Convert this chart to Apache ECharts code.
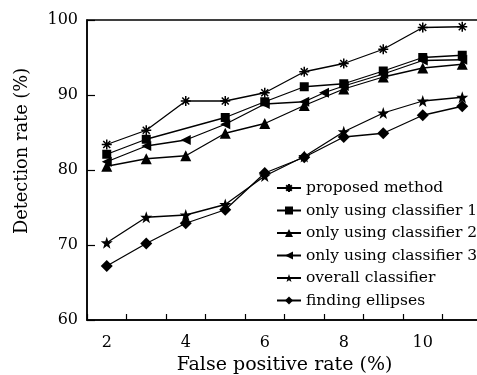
<!DOCTYPE html>
<html>
<head>
<meta charset="utf-8">
<script src="https://cdn.jsdelivr.net/npm/echarts@6/dist/echarts.min.js"></script>
<style>
  html, body { margin: 0; padding: 0; background: #fff; }
  #chart { width: 477px; height: 375px; }
</style>
</head>
<body>
<div id="chart"></div>
<script>
// false positive rate (%)
const xs = [2, 3, 4, 5, 6, 7, 8, 9, 10, 11]
const xsClf3 = [2, 3, 4, 5, 6, 7, 7.5, 8, 9, 10, 11]
const xCategories = ['2', '3', '4', '5', '6', '7', '8', '9', '10', '11']

// detection rate (%)
const proposed = [83.4, 85.3, 89.2, 89.2, 90.3, 93.1, 94.2, 96.1, 99.0, 99.1]
const clf1 = [82.1, 84.1, null, 87.0, 89.1, 91.1, 91.5, 93.2, 95.0, 95.3]
const clf2 = [80.5, 81.5, 81.9, 84.9, 86.2, 88.6, 90.8, 92.4, 93.6, 94.1]
const clf3 = [81.1, 83.2, 84.0, 86.1, 88.8, 89.1, 90.3, 91.2, 92.8, 94.6, 94.7]
const overall = [70.3, 73.7, 74.0, 75.4, 79.2, 81.8, 85.1, 87.6, 89.2, 89.7]
const ellipses = [67.2, 70.2, 72.9, 74.7, 79.6, 81.7, 84.4, 84.9, 87.3, 88.5]

const seriesNames = [
  'proposed method',
  'only using classifier 1',
  'only using classifier 2',
  'only using classifier 3',
  'overall classifier',
  'finding ellipses'
]

const FONT = 'DejaVu Serif'
const asterisk = 'path://M0,-10L0,10M-10,0L10,0M-7,-7L7,7M-7,7L7,-7'
const star = 'path://M0,-10L2.35,-3.24L9.51,-3.09L3.8,1.24L5.88,8.09L0,4L-5.88,8.09L-3.8,1.24L-9.51,-3.09L-2.35,-3.24Z'

function pairs(x, y) {
  return x.map((v, i) => [v, y[i]])
}

function makeSeries(name, data, symbol, size, extra = {}) {
  return Object.assign({
    name: name,
    type: 'line',
    xAxisIndex: 0,
    data: data,
    symbol: symbol,
    symbolSize: size,
    connectNulls: true,
    showAllSymbol: true,
    lineStyle: { color: '#000', width: 1.3 },
    itemStyle: { color: '#000', borderColor: '#000', borderWidth: 0 },
    emphasis: { disabled: true },
    animation: false
  }, extra)
}

const chart = echarts.init(document.getElementById('chart'))

chart.setOption({
  animation: false,
  grid: {
    left: 87,
    top: 20,
    right: -5,
    bottom: 55,
    outerBoundsMode: 'none',
    containLabel: false,
    show: true,
    borderColor: '#000',
    borderWidth: 1.5
  },
  legend: {
    orient: 'vertical',
    left: 271,
    top: 173,
    itemWidth: 24,
    itemHeight: 10,
    itemGap: 2.5,
    textStyle: { fontFamily: FONT, fontSize: 15.5, color: '#000', lineHeight: 20 },
    data: seriesNames
  },
  xAxis: [
    {
      type: 'value',
      min: 1.5,
      max: 11.5,
      interval: 0.5,
      axisLine: { show: true, lineStyle: { color: '#000', width: 1.5 } },
      axisTick: { show: false },
      splitLine: { show: false },
      axisLabel: {
        fontFamily: FONT,
        fontSize: 16,
        color: '#000',
        margin: 15,
        formatter: (v) => (Number.isInteger(v) && v % 2 === 0 ? String(v) : '')
      },
      name: 'False positive rate (%)',
      nameLocation: 'middle',
      nameGap: 36,
      nameTextStyle: { fontFamily: FONT, fontSize: 19, color: '#000' }
    },
    {
      type: 'category',
      position: 'bottom',
      data: xCategories,
      boundaryGap: true,
      axisLine: { show: false },
      axisTick: { show: true, inside: true, length: 6, lineStyle: { color: '#000', width: 1.2 } },
      axisLabel: { show: false },
      splitLine: { show: false }
    }
  ],
  yAxis: {
    type: 'value',
    min: 60,
    max: 100,
    interval: 10,
    axisLine: { show: true, lineStyle: { color: '#000', width: 1.5 } },
    axisTick: { show: true, inside: true, length: 8, lineStyle: { color: '#000', width: 1.2 } },
    splitLine: { show: false },
    axisLabel: { fontFamily: FONT, fontSize: 16, color: '#000', margin: 9 },
    name: 'Detection rate (%)',
    nameLocation: 'middle',
    nameGap: 56,
    nameTextStyle: { fontFamily: FONT, fontSize: 17.8, color: '#000', padding: [0, 0, 0, 38] }
  },
  series: [
    makeSeries(seriesNames[0], pairs(xs, proposed), asterisk, 10,
      { itemStyle: { color: '#000', borderColor: '#000', borderWidth: 1.5 } }),
    makeSeries(seriesNames[1], pairs(xs, clf1), 'rect', 9),
    makeSeries(seriesNames[2], pairs(xs, clf2), 'triangle', 11),
    makeSeries(seriesNames[3], pairs(xsClf3, clf3), 'triangle', 10, { symbolRotate: 90 }),
    makeSeries(seriesNames[4], pairs(xs, overall), star, 12),
    makeSeries(seriesNames[5], pairs(xs, ellipses), 'diamond', 12)
  ]
})
</script>
</body>
</html>
